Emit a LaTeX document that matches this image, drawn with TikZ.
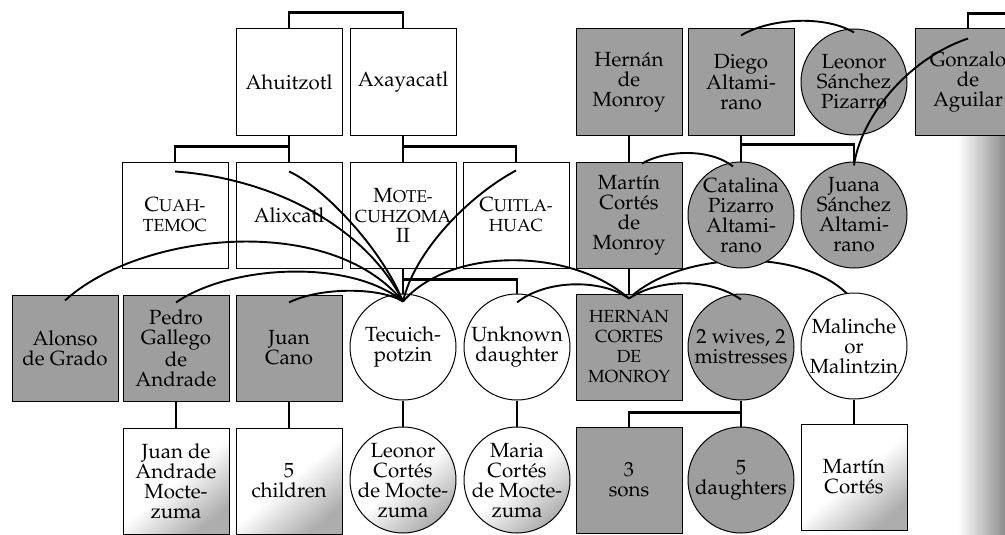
\documentclass[tikz,border=0pt]{standalone}
\usepackage[T1]{fontenc}
\renewcommand{\rmdefault}{ppl}
\definecolor{spanishgray}{gray}{0.62}
\newcommand{\namefont}{\fontsize{20.5}{20}\selectfont}
% small capitals drawn as two sizes of capitals
\newcommand{\capsc}[2]{#1{\fontsize{17}{20}\selectfont #2}}
\newcommand{\allsc}[1]{{\fontsize{17.5}{20.5}\selectfont #1}}
\pgfdeclarelayer{background}
\pgfsetlayers{background,main}
\tikzset{
  person/.style={draw, line width=1pt, minimum size=106pt, inner sep=0pt, align=center, font=\namefont},
  aztecbox/.style={person, rectangle, fill=white},
  aztecring/.style={person, circle, inner sep=-8pt, fill=white},
  spanbox/.style={person, rectangle, fill=spanishgray},
  spanring/.style={person, circle, inner sep=-8pt, fill=spanishgray},
  mixbox/.style={person, rectangle, top color=white, bottom color=spanishgray!85, middle color=white, shading angle=40},
  mixring/.style={person, circle, inner sep=-8pt, top color=white, bottom color=spanishgray!85, middle color=white, shading angle=40},
  kin/.style={line width=2.6pt},
  marriage/.style={line width=1.9pt}
}
\begin{document}
\begin{tikzpicture}[x=1pt,y=-1pt]
    \useasboundingbox (0,0) rectangle (1005,535);
    \clip (0,0) rectangle (1005,535);

    % page shadow at the binding
    \begin{pgfonlayer}{background}
        \shade[left color=white, right color=black!45] (958,60) rectangle (1005,535);
    \end{pgfonlayer}

    % first generation
    \node[aztecbox] (ahui) at (289,82) {Ahuitzotl};
    \node[aztecbox] (axa) at (403,82) {Axayacatl};
    \node[spanbox] (monroy) at (629,82) {Hernán\\de\\Monroy};
    \node[spanbox] (diego) at (741,82) {Diego\\Altami-\\rano};
    \node[spanring] (leonor) at (854,82) {Leonor\\Sánchez\\Pizarro};
    \node[spanbox] (gonzalo) at (968,82) {Gonzalo\\de\\Aguilar};

    % second generation
    \node[aztecbox] (cuah) at (175,215) {\capsc{C}{UAH-}\\\allsc{TEMOC}};
    \node[aztecbox] (alix) at (289,215) {Alixcatl};
    \node[aztecbox] (mote) at (403,215) {\capsc{M}{OTE-}\\\allsc{CUHZOMA}\\II};
    \node[aztecbox] (cuit) at (516,215) {\capsc{C}{UITLA-}\\\allsc{HUAC}};
    \node[spanbox] (martin) at (629,215) {Martín\\Cortés\\de\\Monroy};
    \node[spanring] (catalina) at (741,215) {Catalina\\Pizarro\\Altami-\\rano};
    \node[spanring] (juana) at (854,215) {Juana\\Sánchez\\Altami-\\rano};

    % third generation
    \node[spanbox] (alonso) at (65,348) {Alonso\\de Grado};
    \node[spanbox] (pedro) at (176,348) {Pedro\\Gallego\\de\\Andrade};
    \node[spanbox] (cano) at (289,348) {Juan\\Cano};
    \node[aztecring] (tecu) at (403,347) {Tecuich-\\potzin};
    \node[aztecring] (unknown) at (517,347) {Unknown\\daughter};
    \node[spanbox] (hernan) at (629,347) {\allsc{HERNAN}\\\allsc{CORTES}\\\allsc{DE}\\\allsc{MONROY}};
    \node[spanring] (wives) at (741,347) {2 wives, 2\\mistresses};
    \node[aztecring] (malinche) at (854,346) {Malinche\\or\\Malintzin};

    % fourth generation
    \node[mixbox] (andrade) at (176,481) {Juan de\\Andrade\\Mocte-\\zuma};
    \node[mixbox] (children) at (289,481) {5\\children};
    \node[mixring] (leonorc) at (403,480) {Leonor\\Cortés\\de Mocte-\\zuma};
    \node[mixring] (maria) at (517,480) {Maria\\Cortés\\de Mocte-\\zuma};
    \node[spanbox] (sons) at (629,480) {3\\sons};
    \node[spanring] (daughters) at (741,480) {5\\daughters};
    \node[mixbox] (cortes) at (854,477) {Martín\\Cortés};

    % descent
    \draw[kin] (ahui.north) -- ++(0,-16) -| (axa.north);
    \draw[kin] (gonzalo.north) -- ++(0,-15) -- ++(60,0);
    \draw[kin] (ahui.south) -- (alix.north);
    \draw[kin] (ahui.south) ++(0,11) -| (cuah.north);
    \draw[kin] (axa.south) -- (mote.north);
    \draw[kin] (axa.south) ++(0,11) -| (cuit.north);
    \draw[kin] (monroy.south) -- (martin.north);
    \draw[kin] (diego.south) -- (catalina.north);
    \draw[kin] (diego.south) ++(0,9) -| (juana.north);
    \draw[kin] (martin.south) -- (hernan.north);
    \draw[kin] (mote.south) -- (tecu.north);
    \draw[kin] (mote.south) ++(0,11) -| (unknown.north);
    \draw[kin] (wives.south) ++(0,12) -| (sons.north);
    \foreach \parent/\child in {pedro/andrade, cano/children, tecu/leonorc, unknown/maria, wives/daughters, malinche/cortes}
        \draw[kin] (\parent) -- (\child);

    % marriages
    \coordinate (tecu-m) at ([yshift=-8pt]tecu.north);
    \coordinate (hern-m) at ([yshift=-5pt]hernan.north);
    \draw[marriage] ([yshift=-10pt]cuah.north) .. controls (270,178) and (365,225) .. (tecu-m);
    \draw[marriage] ([yshift=-10pt]alix.north) .. controls (320,185) and (380,245) .. (tecu-m);
    \draw[marriage] ([yshift=-9pt]cuit.north) .. controls (470,195) and (415,250) .. (tecu-m);
    \draw[marriage] ([yshift=-6pt]alonso.north) .. controls (140,232) and (330,212) .. (tecu-m);
    \draw[marriage] ([yshift=-8pt]pedro.north) .. controls (230,265) and (350,258) .. (tecu-m);
    \draw[marriage] ([yshift=-8pt]cano.north) .. controls (320,287) and (380,287) .. (tecu-m);
    \draw[marriage] (tecu-m) .. controls (450,247) and (570,247) .. (hern-m);
    \draw[marriage] ([yshift=-9pt]unknown.north) .. controls (545,280) and (600,278) .. (hern-m);
    \draw[marriage] (hern-m) .. controls (660,278) and (710,278) .. ([yshift=-6pt]wives.north);
    \begin{pgfonlayer}{background}
        \draw[marriage] (hern-m) .. controls (680,250) and (810,245) .. ([yshift=-9pt]malinche.north);
    \end{pgfonlayer}
    \draw[marriage] ([xshift=13pt,yshift=-2pt]martin.north) .. controls (665,150) and (710,148) .. ([xshift=-8pt,yshift=-5pt]catalina.north);
    \draw[marriage] ([yshift=-7pt]diego.north) .. controls (770,18) and (825,15) .. ([yshift=-4pt]leonor.north);
    \draw[marriage] ([yshift=-4pt]juana.north) .. controls (860,120) and (905,60) .. ([yshift=-10pt]gonzalo.north);

\end{tikzpicture}
\end{document}
